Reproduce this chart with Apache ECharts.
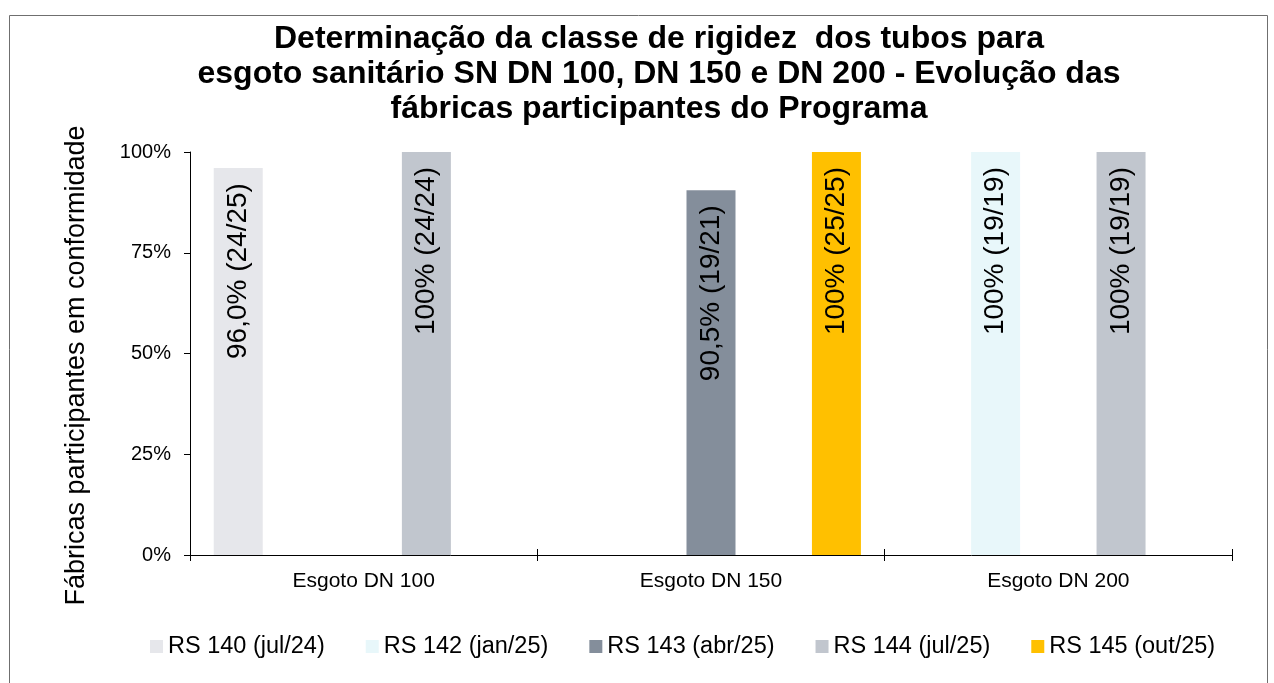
<!DOCTYPE html>
<html><head><meta charset="utf-8">
<script src="https://cdn.jsdelivr.net/npm/echarts@6/dist/echarts.min.js"></script>
<style>html,body{margin:0;padding:0;background:#fff}#c{width:1274px;height:683px}</style>
</head><body><div id="c"></div>
<script>
const categories = ['Esgoto DN 100', 'Esgoto DN 150', 'Esgoto DN 200'];
const seriesNames = ['RS 140 (jul/24)', 'RS 142 (jan/25)', 'RS 143 (abr/25)', 'RS 144 (jul/25)', 'RS 145 (out/25)'];
const rs140 = [96.0, null, null];
const rs142 = [null, null, 100];
const rs143 = [null, 90.5, null];
const rs144 = [100, null, 100];
const rs145 = [null, 100, null];
const rs140Labels = ['96,0% (24/25)', '', ''];
const rs142Labels = ['', '', '100% (19/19)'];
const rs143Labels = ['', '90,5% (19/21)', ''];
const rs144Labels = ['100% (24/24)', '', '100% (19/19)'];
const rs145Labels = ['', '100% (25/25)', ''];
const yTickLabels = ['0%', '25%', '50%', '75%', '100%'];
const colors = ['#e6e7eb', '#e8f7fa', '#848e9b', '#c1c6ce', '#ffc000'];

const seriesValues = [rs140, rs142, rs143, rs144, rs145];
const seriesLabels = [rs140Labels, rs142Labels, rs143Labels, rs144Labels, rs145Labels];
const FONT = '"Liberation Sans", Arial, sans-serif';

const chart = echarts.init(document.getElementById('c'));
chart.setOption({
  animation: false,
  textStyle: { fontFamily: FONT, color: '#000' },
  color: colors,
  title: {
    text: 'Determinação da classe de rigidez  dos tubos para\nesgoto sanitário SN DN 100, DN 150 e DN 200 - Evolução das\nfábricas participantes do Programa',
    left: 659, textAlign: 'center', top: 22, padding: 0,
    textStyle: { fontFamily: FONT, fontSize: 32, fontWeight: 'bold', lineHeight: 35, color: '#000' }
  },
  graphic: [{
    type: 'rect', silent: true,
    shape: { x: 9.5, y: 15.5, width: 1258, height: 700 },
    style: { fill: 'none', stroke: '#6f6f6f', lineWidth: 1 }
  }],
  legend: {
    left: 150, top: 634.5, padding: 0,
    itemWidth: 13, itemHeight: 13, itemGap: 41, icon: 'rect',
    textStyle: { fontFamily: FONT, fontSize: 23.5, color: '#000' },
    data: seriesNames
  },
  grid: { left: 190, right: 42, top: 152, bottom: 128, containLabel: false },
  xAxis: [{
    type: 'category', data: categories, position: 'bottom',
    axisLine: { lineStyle: { color: '#000', width: 1 } },
    axisTick: { show: true, length: 6, alignWithLabel: false, lineStyle: { color: '#000' } },
    axisLabel: { fontFamily: FONT, fontSize: 21, color: '#000', margin: 16 }
  }, {
    type: 'category', data: categories, position: 'top', offset: -403,
    axisLine: { show: false },
    axisTick: { show: true, length: 6, alignWithLabel: false, lineStyle: { color: '#000' } },
    axisLabel: { show: false }
  }],
  yAxis: {
    type: 'value', min: 0, max: 100, interval: 25,
    name: 'Fábricas participantes em conformidade',
    nameLocation: 'middle', nameGap: 100,
    nameTextStyle: { fontFamily: FONT, fontSize: 27, color: '#000', padding: [0, 24, 0, 0] },
    axisLine: { show: true, lineStyle: { color: '#000', width: 1 } },
    axisTick: { show: true, length: 6, lineStyle: { color: '#000' } },
    splitLine: { show: false },
    axisLabel: {
      fontSize: 20, color: '#000', margin: 19,
      formatter: function (v) { return yTickLabels[Math.round(v / 25)]; }
    }
  },
  series: seriesNames.map(function (name, i) {
    return {
      name: name, type: 'bar', xAxisIndex: 0,
      data: seriesValues[i],
      barWidth: 49, barGap: '28%',
      itemStyle: { color: colors[i] },
      label: {
        show: true, position: 'insideTop', distance: 15,
        rotate: 90, align: 'right', verticalAlign: 'middle',
        fontFamily: FONT, fontSize: 28, color: '#000',
        formatter: function (p) { return seriesLabels[i][p.dataIndex]; }
      }
    };
  })
});
</script></body></html>
